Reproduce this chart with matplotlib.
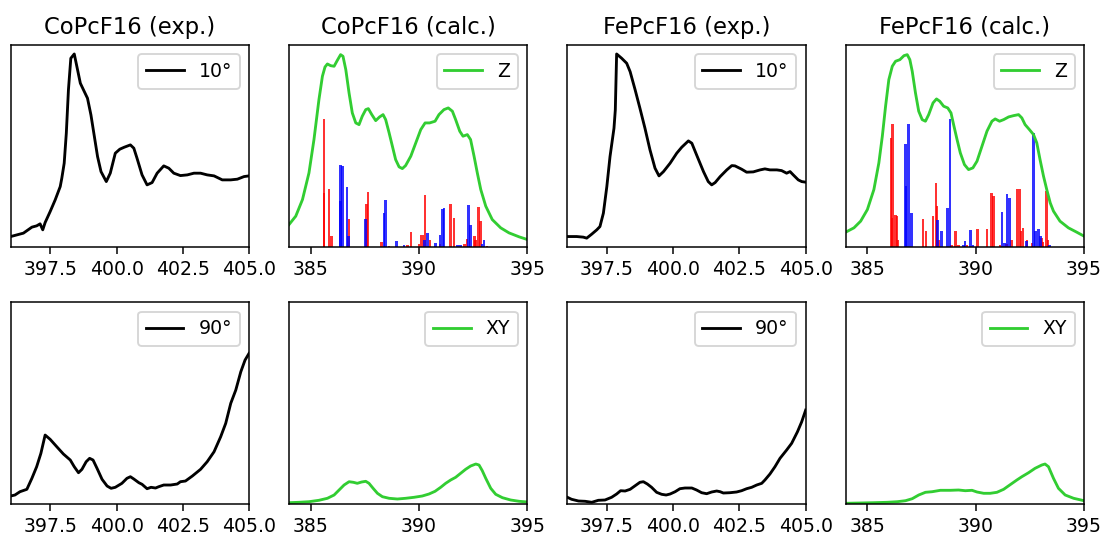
import numpy as np
from matplotlib import pyplot as plt

# ---- experimental spectra (photon energy in eV, intensity arb. units) ----
co_exp_e10 = [396.00, 396.48, 396.80, 396.98, 397.11, 397.21, 397.30, 397.49, 397.68, 397.87,
              397.93, 398.02, 398.10, 398.18, 398.27, 398.40, 398.50, 398.63, 398.75, 398.90,
              399.03, 399.16, 399.28, 399.41, 399.61, 399.76, 399.95, 400.12, 400.29, 400.52,
              400.65, 400.77, 400.96, 401.15, 401.34, 401.53, 401.78, 401.97, 402.16, 402.41,
              402.67, 402.92, 403.17, 403.42, 403.68, 403.99, 404.31, 404.56, 404.81, 405.00]
co_exp_i10 = [10.3, 13.7, 19.7, 21.0, 23.0, 17.0, 24.3, 35.3, 47.0, 60.3,
              68.7, 83.7, 113.7, 157.0, 188.7, 193.0, 180.3, 163.7, 157.0, 148.7,
              132.0, 110.3, 90.3, 75.3, 65.3, 73.7, 93.7, 97.7, 99.7, 102.0,
              98.7, 88.7, 72.0, 62.0, 64.3, 73.7, 81.0, 78.7, 73.7, 71.3,
              72.0, 73.7, 73.7, 72.0, 71.0, 67.0, 67.0, 67.7, 70.3, 71.0]

co_exp_e90 = [396.00, 396.16, 396.35, 396.61, 396.80, 396.98, 397.14, 397.30, 397.49, 397.74,
              397.99, 398.25, 398.40, 398.56, 398.69, 398.85, 398.98, 399.11, 399.26, 399.45,
              399.64, 399.79, 399.95, 400.20, 400.39, 400.52, 400.65, 400.84, 400.96, 401.15,
              401.30, 401.47, 401.59, 401.78, 402.04, 402.29, 402.41, 402.60, 402.86, 403.17,
              403.42, 403.68, 403.93, 404.12, 404.31, 404.50, 404.69, 404.85, 405.00]
co_exp_i90 = [8.0, 9.0, 12.3, 14.7, 25.7, 37.3, 50.7, 69.0, 64.7, 57.3,
              50.0, 44.0, 37.3, 31.3, 34.7, 42.3, 45.7, 44.0, 35.7, 24.7,
              18.0, 15.7, 16.7, 20.7, 25.7, 27.3, 25.0, 21.3, 19.7, 15.3,
              16.7, 16.0, 17.3, 19.0, 19.0, 20.0, 22.3, 23.0, 28.0, 34.7,
              42.3, 52.3, 67.3, 80.7, 100.7, 114.0, 132.3, 144.0, 150.7]

fe_exp_e10 = [396.00, 396.35, 396.60, 396.73, 396.92, 397.11, 397.23, 397.36, 397.49, 397.61,
              397.76, 397.81, 397.86, 398.05, 398.24, 398.37, 398.56, 398.74, 398.93, 399.12,
              399.31, 399.46, 399.63, 399.88, 400.13, 400.32, 400.57, 400.70, 400.88, 401.14,
              401.32, 401.45, 401.58, 401.77, 402.02, 402.21, 402.33, 402.58, 402.77, 403.02,
              403.28, 403.46, 403.65, 403.91, 404.09, 404.28, 404.41, 404.53, 404.72, 404.85,
              405.00]
fe_exp_i10 = [10.3, 10.3, 9.7, 8.7, 12.7, 17.0, 20.3, 33.7, 60.3, 90.3,
              118.7, 137.0, 193.0, 188.7, 183.7, 175.3, 157.0, 138.7, 118.7, 97.0,
              78.7, 71.0, 75.3, 83.7, 93.7, 99.7, 106.0, 103.7, 92.0, 75.3,
              65.3, 62.0, 64.3, 70.3, 77.0, 81.3, 81.0, 77.7, 74.7, 75.0,
              77.0, 78.0, 77.0, 77.0, 76.3, 73.7, 75.3, 72.0, 67.0, 65.3,
              64.7]

fe_exp_e90 = [396.00, 396.16, 396.42, 396.67, 396.92, 397.17, 397.42, 397.67, 397.86, 398.01,
              398.18, 398.37, 398.56, 398.74, 398.87, 399.02, 399.18, 399.37, 399.56, 399.73,
              399.88, 400.07, 400.25, 400.44, 400.70, 400.88, 401.07, 401.26, 401.45, 401.64,
              401.77, 401.89, 402.14, 402.39, 402.58, 402.77, 402.96, 403.15, 403.34, 403.46,
              403.65, 403.84, 404.03, 404.28, 404.47, 404.69, 404.85, 405.00]
fe_exp_i90 = [6.7, 4.7, 3.0, 2.7, 1.7, 3.7, 4.0, 6.7, 10.0, 13.3,
              13.0, 14.7, 18.3, 21.7, 22.3, 20.0, 16.7, 11.7, 9.7, 9.0,
              10.0, 12.3, 15.3, 16.0, 16.0, 14.0, 11.3, 10.3, 12.0, 13.0,
              12.3, 11.0, 11.3, 12.0, 13.3, 15.3, 16.7, 19.0, 20.7, 24.0,
              30.0, 37.3, 45.7, 54.0, 60.7, 72.3, 82.3, 94.0]

# ---- calculated spectra ----
co_z_e = [384.00, 384.31, 384.62, 384.92, 385.15, 385.38, 385.54, 385.66, 385.77, 385.92,
          386.08, 386.23, 386.38, 386.49, 386.62, 386.77, 386.92, 387.08, 387.23, 387.38,
          387.54, 387.66, 387.82, 388.00, 388.18, 388.34, 388.46, 388.62, 388.77, 388.92,
          389.08, 389.23, 389.38, 389.62, 389.85, 390.08, 390.28, 390.49, 390.74, 390.92,
          391.15, 391.35, 391.54, 391.69, 391.88, 392.03, 392.23, 392.38, 392.54, 392.69,
          392.85, 393.08, 393.38, 393.77, 394.15, 394.62, 395.00]
co_z_i = [22.3, 30.7, 47.3, 74.0, 107.3, 147.3, 170.7, 180.0, 183.0, 181.3,
          180.7, 186.7, 192.3, 190.7, 177.3, 154.0, 134.0, 124.0, 122.3, 130.7,
          137.3, 138.3, 132.3, 126.3, 130.0, 132.3, 127.3, 114.0, 100.7, 87.3,
          80.0, 78.3, 81.3, 90.7, 104.0, 117.3, 124.0, 124.0, 125.7, 132.3,
          137.3, 139.0, 135.7, 127.3, 115.7, 110.7, 112.3, 107.3, 90.7, 74.0,
          57.3, 40.7, 27.3, 19.0, 14.0, 10.0, 7.3]

co_xy_e = [384.00, 384.46, 384.92, 385.38, 385.77, 386.08, 386.31, 386.54, 386.77, 386.97,
           387.15, 387.35, 387.54, 387.69, 387.88, 388.08, 388.31, 388.62, 389.00, 389.38,
           389.77, 390.15, 390.46, 390.74, 391.00, 391.23, 391.46, 391.69, 391.92, 392.15,
           392.38, 392.62, 392.77, 392.92, 393.08, 393.31, 393.54, 393.85, 394.23, 394.62,
           395.00]
co_xy_i = [1.3, 1.7, 2.3, 3.7, 5.7, 9.0, 14.0, 19.0, 22.3, 21.7,
           20.7, 22.0, 22.7, 20.7, 15.7, 10.7, 7.3, 5.7, 5.0, 5.7,
           6.7, 8.0, 10.0, 12.7, 16.7, 20.7, 24.0, 26.7, 30.7, 34.7,
           38.0, 40.0, 39.0, 33.3, 25.7, 15.7, 9.7, 6.3, 4.0, 2.7,
           2.0]

fe_z_e = [384.00, 384.38, 384.69, 385.00, 385.30, 385.53, 385.69, 385.84, 385.99, 386.15,
          386.30, 386.50, 386.69, 386.84, 386.96, 387.07, 387.22, 387.37, 387.53, 387.68,
          387.83, 388.03, 388.19, 388.34, 388.52, 388.71, 388.86, 388.98, 389.14, 389.29,
          389.48, 389.67, 389.87, 390.06, 390.29, 390.52, 390.75, 390.90, 391.10, 391.29,
          391.52, 391.75, 391.98, 392.13, 392.28, 392.48, 392.67, 392.82, 392.97, 393.13,
          393.28, 393.44, 393.59, 393.89, 394.28, 394.66, 395.00]
fe_z_i = [14.7, 19.0, 25.7, 37.3, 57.3, 84.0, 110.7, 140.7, 167.3, 180.7,
          185.7, 187.3, 191.3, 192.3, 187.3, 175.7, 154.0, 135.7, 127.3, 125.7,
          132.3, 144.0, 148.0, 145.7, 140.7, 139.0, 134.0, 122.3, 107.3, 94.0,
          82.3, 77.3, 79.0, 85.7, 100.7, 115.7, 125.7, 128.0, 125.7, 127.3,
          130.0, 131.3, 132.3, 129.0, 122.3, 117.3, 112.3, 104.0, 87.3, 70.7,
          57.3, 44.0, 35.7, 25.7, 19.0, 14.7, 10.7]

fe_xy_e = [384.00, 384.69, 385.30, 385.92, 386.38, 386.76, 387.07, 387.37, 387.68, 387.99,
           388.37, 388.83, 389.21, 389.52, 389.83, 390.06, 390.37, 390.67, 390.98, 391.29,
           391.59, 391.90, 392.13, 392.44, 392.74, 393.05, 393.20, 393.36, 393.59, 393.82,
           394.13, 394.52, 395.00]
fe_xy_i = [0.7, 1.0, 1.3, 1.7, 2.3, 3.3, 5.3, 9.0, 11.7, 12.3,
           13.7, 13.7, 14.0, 13.3, 13.7, 12.0, 10.7, 10.7, 11.7, 14.7,
           19.3, 24.0, 27.3, 31.3, 35.7, 39.0, 40.0, 37.3, 25.7, 15.7,
           9.0, 5.7, 3.3]

# ---- transition sticks (energy, oscillator strength) ----
co_red_e = [385.62, 385.62, 385.85, 385.95, 386.77, 387.58, 387.65, 388.28, 388.62, 389.48,
            389.63, 390.00, 390.09, 390.18, 390.28, 390.51, 390.97, 391.46, 391.62, 392.09,
            392.22, 392.55, 392.62, 392.74, 392.83, 393.14]
co_red_h = [128.3, 54.0, 58.3, 11.3, 28.3, 43.3, 55.3, 5.3, 1.3, 2.3,
            14.7, 3.3, 12.3, 12.3, 51.7, 7.3, 3.3, 43.3, 29.3, 3.3,
            8.0, 10.7, 7.3, 39.7, 25.7, 1.3]
co_blue_e = [386.38, 386.38, 386.46, 386.68, 386.75, 387.52, 388.38, 388.46, 388.97, 389.31,
             390.25, 390.38, 390.75, 390.97, 391.08, 391.15, 391.77, 391.92, 392.29, 392.38,
             392.91, 393.00]
co_blue_h = [82.3, 45.7, 80.7, 59.7, 10.7, 28.0, 33.7, 47.3, 5.7, 2.3,
             7.3, 13.7, 4.0, 12.3, 38.0, 38.7, 2.3, 2.3, 42.3, 22.3,
             3.3, 7.3]

fe_red_e = [386.09, 386.16, 386.13, 386.29, 386.36, 386.42, 387.56, 387.70, 388.03, 388.16,
            388.22, 388.29, 388.89, 389.06, 389.20, 389.60, 390.09, 390.53, 390.72, 390.83,
            391.13, 391.41, 391.65, 391.91, 392.01, 392.10, 392.19, 392.36, 392.60, 393.03,
            393.10, 393.26, 393.34]
fe_red_h = [109.0, 123.3, 29.0, 32.3, 31.3, 7.3, 28.0, 16.3, 30.7, 64.0,
            40.7, 7.3, 2.3, 16.3, 2.3, 2.3, 18.3, 18.3, 54.0, 50.7,
            2.3, 3.3, 7.3, 58.3, 58.3, 15.7, 19.0, 7.3, 4.0, 9.0,
            4.7, 55.7, 7.3]
fe_blue_e = [386.76, 386.90, 386.79, 387.04, 388.25, 388.43, 388.69, 388.82, 389.43, 389.51,
             389.75, 389.87, 391.22, 391.45, 391.55, 391.33, 392.34, 392.67, 392.76, 392.90,
             393.00, 393.40]
fe_blue_h = [103.0, 123.3, 60.7, 34.0, 27.3, 16.3, 39.0, 128.3, 2.3, 5.7,
             17.3, 2.3, 34.7, 53.3, 49.0, 4.0, 5.7, 114.0, 15.7, 18.3,
             10.7, 2.3]

titles = ["CoPcF16 (exp.)", "CoPcF16 (calc.)", "FePcF16 (exp.)", "FePcF16 (calc.)"]

fig, axs = plt.subplots(2, 4, figsize=(1104/136, 538/136), dpi=136, sharey='col')
fig.subplots_adjust(left=0.0097, right=0.9819, top=0.9164, bottom=0.0632,
                    wspace=0.168, hspace=0.274)

def exp_panel(ax_top, ax_bot, e10, i10, e90, i90):
  ax_top.plot(e10, i10, color="black", lw=1.5, label="10°")
  ax_bot.plot(e90, i90, color="black", lw=1.5, label="90°")
  for ax in (ax_top, ax_bot):
    ax.set_xlim(396, 405)
    ax.set_xticks([397.5, 400.0, 402.5, 405.0])

def calc_panel(ax_top, ax_bot, ze, zi, xye, xyi, re, rh, be, bh):
  ax_top.bar(re, rh, width=0.12, color="red", alpha=0.8)
  ax_top.bar(be, bh, width=0.12, color="blue", alpha=0.8)
  ax_top.plot(ze, zi, color="limegreen", lw=1.5, label="Z")
  ax_bot.plot(xye, xyi, color="limegreen", lw=1.5, label="XY")
  for ax in (ax_top, ax_bot):
    ax.set_xlim(384, 395)
    ax.set_xticks([385, 390, 395])

exp_panel(axs[0][0], axs[1][0], co_exp_e10, co_exp_i10, co_exp_e90, co_exp_i90)
calc_panel(axs[0][1], axs[1][1], co_z_e, co_z_i, co_xy_e, co_xy_i,
           co_red_e, co_red_h, co_blue_e, co_blue_h)
exp_panel(axs[0][2], axs[1][2], fe_exp_e10, fe_exp_i10, fe_exp_e90, fe_exp_i90)
calc_panel(axs[0][3], axs[1][3], fe_z_e, fe_z_i, fe_xy_e, fe_xy_i,
           fe_red_e, fe_red_h, fe_blue_e, fe_blue_h)

for j in range(4):
  axs[0][j].set_title(titles[j])
  axs[0][j].set_ylim(0, 202)
  for i in range(2):
    axs[i][j].set_yticks([])
    axs[i][j].legend(loc="upper right")

fig.savefig("out.png", dpi=136)
